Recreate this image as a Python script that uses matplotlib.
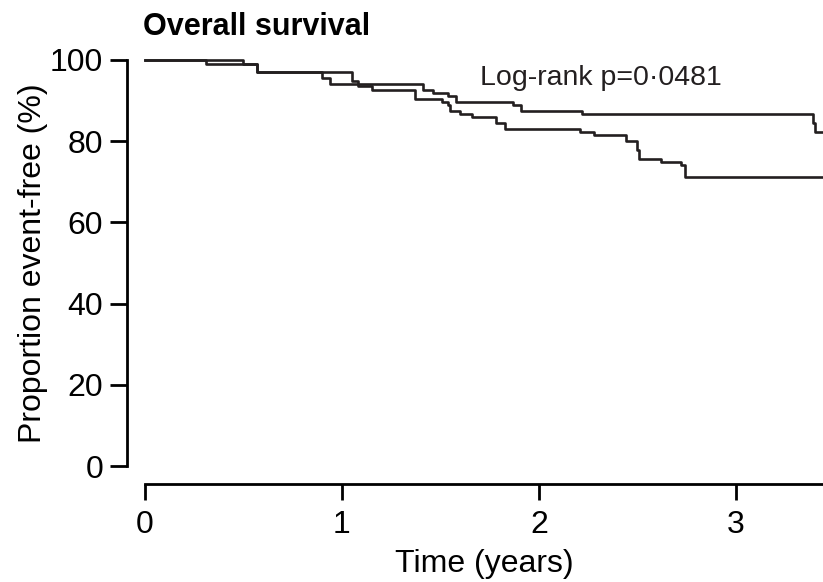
import matplotlib
matplotlib.use("Agg")
import matplotlib.pyplot as plt

# Kaplan-Meier step data (time in years, % event-free)
time_a = [0.0, 0.31, 0.57, 0.90, 0.94, 1.41, 1.46, 1.54, 1.58, 1.87, 1.91, 2.22, 3.39, 3.40, 3.45]
surv_a = [100.0, 98.9, 97.0, 95.6, 94.1, 92.6, 91.9, 91.2, 89.7, 88.9, 87.4, 86.7, 84.5, 82.3, 82.3]

time_b = [0.0, 0.50, 0.57, 1.05, 1.08, 1.15, 1.37, 1.51, 1.54, 1.55, 1.60, 1.66, 1.78, 1.83,
          2.21, 2.28, 2.44, 2.50, 2.51, 2.62, 2.72, 2.74, 3.45]
surv_b = [100.0, 98.9, 97.0, 94.9, 93.7, 92.7, 90.5, 89.7, 88.8, 87.5, 86.7, 86.0, 84.5, 83.0,
          82.3, 81.5, 80.1, 77.8, 75.6, 74.9, 74.1, 71.2, 71.2]

x_ticks = [0, 1, 2, 3]
y_ticks = [0, 20, 40, 60, 80, 100]

title = "Overall survival"
x_label = "Time (years)"
y_label = "Proportion event-free (%)"
p_text = "Log-rank p=0\u00b70481"

INK = "#231f20"
FONT = "Liberation Sans"


def style_axes(ax):
    for side in ("top", "right"):
        ax.spines[side].set_visible(False)
    for side in ("left", "bottom"):
        ax.spines[side].set_position(("outward", 13))
        ax.spines[side].set_linewidth(2.0)
        ax.spines[side].set_color("black")

    ax.set_xlim(0, 3.442)
    ax.set_ylim(0, 100)
    ax.set_xticks(x_ticks)
    ax.set_yticks(y_ticks)
    ax.tick_params(axis="y", direction="out", length=12, width=2.0, pad=5,
                   labelsize=23, colors="black")
    ax.tick_params(axis="x", direction="out", length=11.5, width=2.0, pad=7,
                   labelsize=23, colors="black")
    for lab in ax.get_xticklabels() + ax.get_yticklabels():
        lab.set_fontfamily(FONT)


def main():
    fig = plt.figure(figsize=(8.23, 5.82), dpi=100)
    ax = fig.add_axes([145 / 823, 116 / 582, 678 / 823, 406 / 582])

    ax.step(time_a, surv_a, where="post", color=INK, linewidth=1.9, clip_on=False)
    ax.step(time_b, surv_b, where="post", color=INK, linewidth=1.9, clip_on=False)

    style_axes(ax)

    ax.set_xlabel(x_label, fontsize=23, family=FONT)
    ax.xaxis.set_label_coords(0.5, -0.205)
    ax.set_ylabel(y_label, fontsize=23, family=FONT)
    ax.yaxis.set_label_coords(-0.143, 0.5)

    ax.text(1.70, 93.8, p_text, fontsize=20.5, family=FONT, color=INK,
            ha="left", va="baseline")

    fig.text(143 / 823, 1 - 35 / 582, title, fontsize=22, fontweight="heavy",
             family=FONT, color="black", ha="left", va="baseline")

    fig.savefig("out.png", dpi=100)
    plt.close(fig)


if __name__ == "__main__":
    main()
